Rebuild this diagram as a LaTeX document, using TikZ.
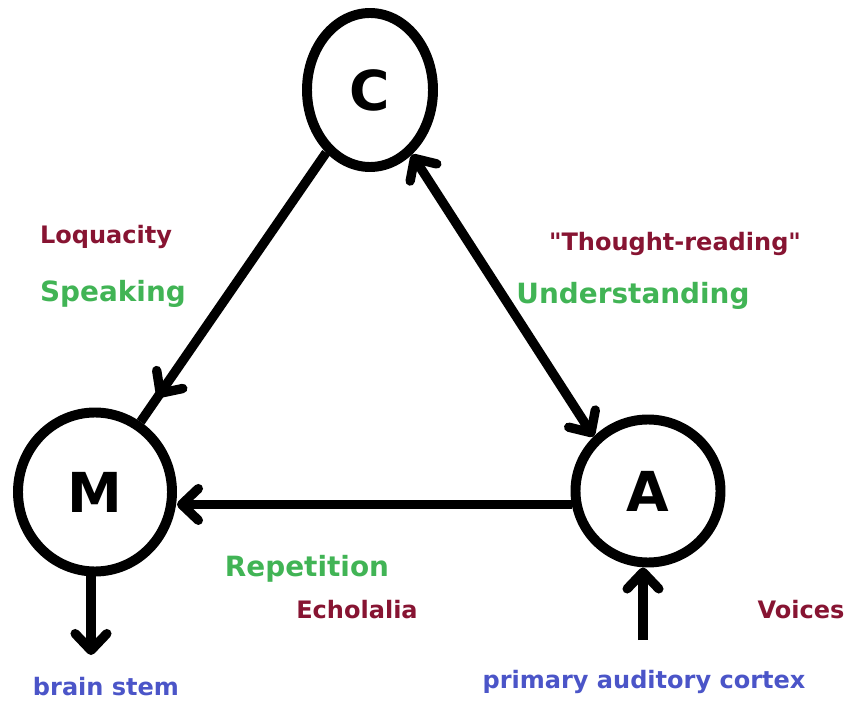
\documentclass[tikz,border=0pt]{standalone}
\usepackage{fontspec}
\setmainfont{DejaVu Sans}
\usetikzlibrary{arrows.meta, shapes.geometric}

\definecolor{labelred}{RGB}{135,20,50}
\definecolor{labelgreen}{RGB}{65,180,85}
\definecolor{labelblue}{RGB}{75,85,200}

\begin{document}
\begin{tikzpicture}[x = 0.03cm, y = -0.03cm, > = {Straight Barb[length = 0.5cm, width = 0.95cm, round]},
	area/.style = {draw, ellipse, line width = 8.5pt, inner sep = 0pt, font = \fontsize{47}{56}\selectfont\bfseries},
	link/.style = {line width = 8pt, ->},
	redlabel/.style = {labelred, anchor = base, inner sep = 0pt, font = \fontsize{20.5}{24}\selectfont\bfseries},
	greenlabel/.style = {labelgreen, anchor = base, inner sep = 0pt, font = \fontsize{23.8}{28}\selectfont\bfseries},
	bluelabel/.style = {labelblue, anchor = base, inner sep = 0pt, font = \fontsize{20.5}{24}\selectfont\bfseries}]

	\useasboundingbox (0, 0) rectangle (856, 706);

	% Areas
	
	\node [area, minimum width = 3.78cm, minimum height = 4.62cm] (C) at (370, 90) {C};
	\node [area, minimum width = 4.62cm, minimum height = 4.77cm] (M) at (95, 492) {M};
	\node [area, minimum width = 4.35cm, minimum height = 4.29cm] (A) at (648, 491) {A};
	
	\coordinate (stem) at (91, 655);
	\coordinate (cortex) at (643, 640);

	% Pathways
	
	\draw [link, -{Straight Barb[length = 0.5cm, width = 0.95cm, round] Butt Cap[length = 0.9cm]}] (C.235) -- (M.57);
	\draw [link, <->] (C.-57) -- (A.135);
	\draw [link] (A.190) -- (A.190 -| M.east);
	\draw [link] (M.south -| stem) -- (stem);
	\draw [link] (cortex) -- (cortex |- A.south);

	% Labels
	
	\node [redlabel] (loquacity) at (106, 244) {Loquacity};
	\node [greenlabel] (speaking) at (113, 302) {Speaking};
	\node [redlabel] (thought) at (675, 251) {\textquotedbl Thought-reading\textquotedbl};
	\node [greenlabel] (understanding) at (633, 303) {Understanding};
	\node [greenlabel] (repetition) at (307, 576) {Repetition};
	\node [redlabel] (echolalia) at (357, 618) {Echolalia};
	\node [redlabel] (voices) at (801, 618) {Voices};
	\node [bluelabel] (brainstem) at (106, 695) {brain stem};
	\node [bluelabel] (auditory) at (644, 688) {primary auditory cortex};

\end{tikzpicture}
\end{document}
